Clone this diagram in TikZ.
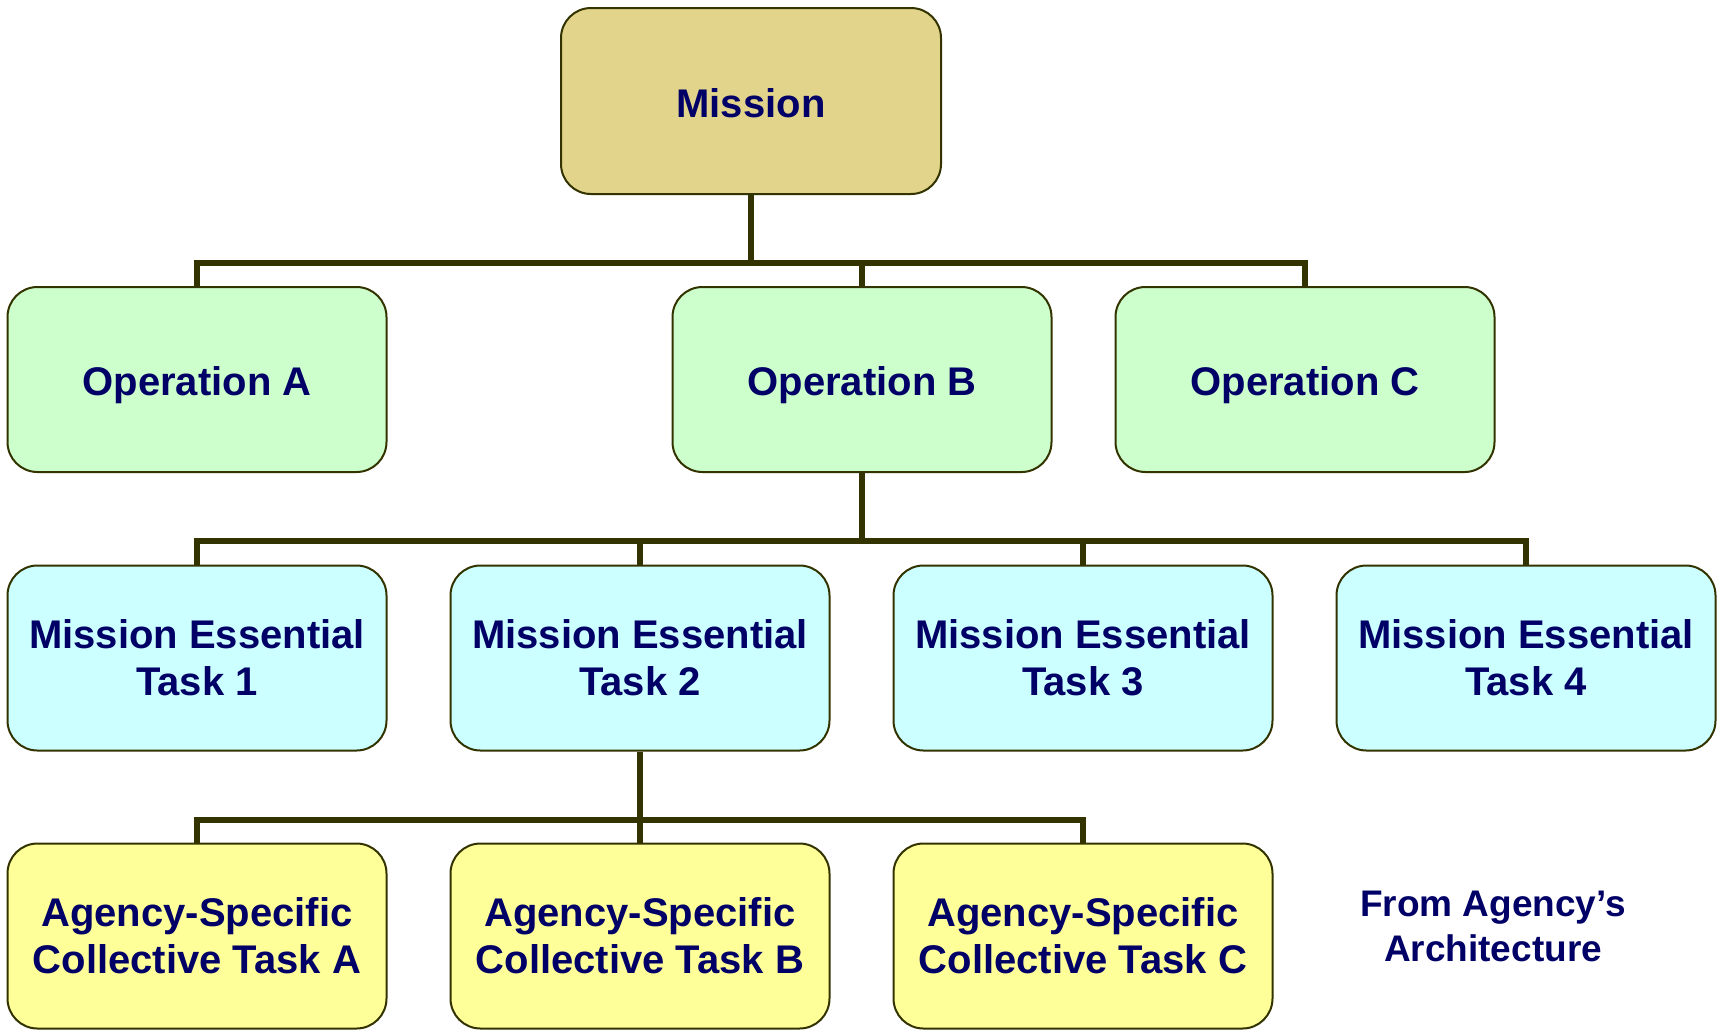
\documentclass[tikz,border=0pt]{standalone}
\usepackage{fontspec}
\setmainfont{Liberation Sans}
\definecolor{txt}{HTML}{000066}
\definecolor{edge}{HTML}{333300}
\definecolor{mfill}{HTML}{E3D48B}
\definecolor{gfill}{HTML}{CCFFCC}
\definecolor{cfill}{HTML}{CCFFFF}
\definecolor{yfill}{HTML}{FFFF99}
\begin{document}
\begin{tikzpicture}[x=0.5pt,y=-0.5pt,
  box/.style={draw=edge, line width=1pt, rounded corners=15pt,
    minimum width=189.5pt, minimum height=92.5pt, inner sep=0pt,
    align=center, text=txt, font=\fontsize{20}{23.5}\selectfont\bfseries},
  oneline/.style={text depth=0pt, text height=16pt},
  conn/.style={draw=edge, line width=3pt, line join=miter}]
\useasboundingbox (0,0) rectangle (1719,1030);
% nodes
\node[box, oneline, fill=mfill, minimum width=190pt, minimum height=93pt] (mission) at (751,101) {Mission};
\node[box, oneline, fill=gfill] (opA) at (197,379.5) {Operation A};
\node[box, oneline, fill=gfill] (opB) at (862,379.5) {Operation B};
\node[box, oneline, fill=gfill] (opC) at (1305,379.5) {Operation C};
\node[box, fill=cfill] (t1) at (197,658) {Mission Essential\\Task 1};
\node[box, fill=cfill] (t2) at (640,658) {Mission Essential\\Task 2};
\node[box, fill=cfill] (t3) at (1083,658) {Mission Essential\\Task 3};
\node[box, fill=cfill] (t4) at (1526,658) {Mission Essential\\Task 4};
\node[box, fill=yfill] (cA) at (197,936) {Agency-Specific\\Collective Task A};
\node[box, fill=yfill] (cB) at (640,936) {Agency-Specific\\Collective Task B};
\node[box, fill=yfill] (cC) at (1083,936) {Agency-Specific\\Collective Task C};
\node[text=txt, align=center, font=\fontsize{18.5}{22.5}\selectfont\bfseries] (note) at (1493,926) {From Agency’s\\Architecture};
% bus levels
\coordinate (bus1) at (0,263);
\coordinate (bus2) at (0,541);
\coordinate (bus3) at (0,820);
% connectors
\foreach \c in {opA,opB,opC}
  \draw[conn] (mission.south) -- (mission.south |- bus1) -| (\c.north);
\foreach \c in {t1,t2,t3,t4}
  \draw[conn] (opB.south) -- (opB.south |- bus2) -| (\c.north);
\foreach \c in {cA,cB,cC}
  \draw[conn] (t2.south) -- (t2.south |- bus3) -| (\c.north);
\end{tikzpicture}
\end{document}
